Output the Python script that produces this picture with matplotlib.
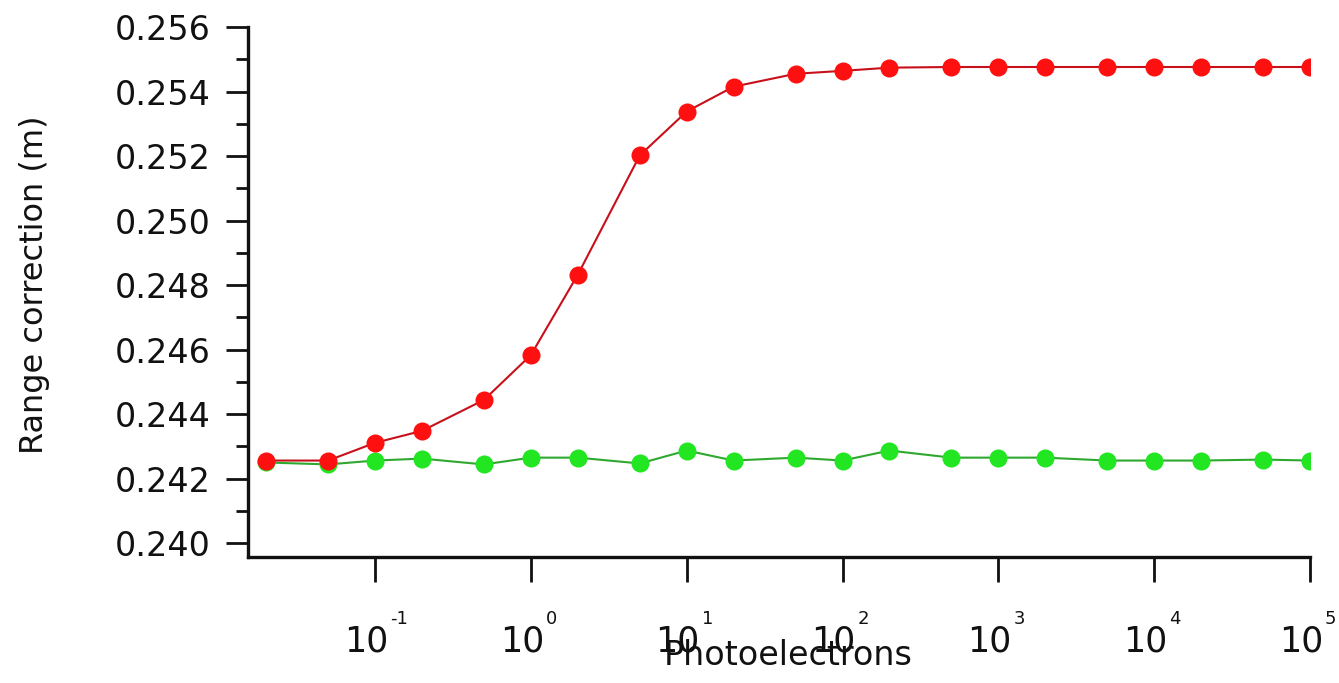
import numpy as np
import matplotlib
matplotlib.use("Agg")
import matplotlib.pyplot as plt
from matplotlib.ticker import MultipleLocator, NullLocator

plt.rcParams["font.family"] = ["DejaVu Sans"]

photoelectrons = [0.02, 0.05, 0.1, 0.2, 0.5, 1, 2, 5, 10, 20, 50, 100, 200,
                  500, 1000, 2000, 5000, 1e4, 2e4, 5e4, 1e5]

red_corr = [0.24256, 0.24256, 0.24311, 0.24348, 0.24444, 0.24583, 0.24832,
            0.25202, 0.25338, 0.25415, 0.25455, 0.25464, 0.25474, 0.25476,
            0.25476, 0.25476, 0.25476, 0.25476, 0.25476, 0.25476, 0.25476]

green_corr = [0.24250, 0.24244, 0.24256, 0.24262, 0.24244, 0.24265, 0.24265,
              0.24247, 0.24287, 0.24256, 0.24265, 0.24256, 0.24287, 0.24265,
              0.24265, 0.24265, 0.24256, 0.24256, 0.24256, 0.24259, 0.24256]

xtick_vals = [1e-1, 1e0, 1e1, 1e2, 1e3, 1e4, 1e5]
xtick_exps = ["-1", "0", "1", "2", "3", "4", "5"]

fig = plt.figure(figsize=(13.39, 6.83), dpi=100)
ax = fig.add_axes([248 / 1339, 1 - 557 / 683, (1310 - 248) / 1339, (557 - 27) / 683])

ax.plot(photoelectrons, green_corr, "-", color="#2fa82f", lw=1.5, zorder=2)
ax.plot(photoelectrons, green_corr, "o", color="#22e622", ms=13, mew=0, zorder=3)
ax.plot(photoelectrons, red_corr, "-", color="#c8101a", lw=1.5, zorder=4)
ax.plot(photoelectrons, red_corr, "o", color="#ff1010", ms=13, mew=0, zorder=5)

ax.set_xscale("log")
ax.set_xlim(0.0153, 1e5)
ax.set_ylim(0.23957, 0.256)

ax.set_xticks(xtick_vals)
ax.set_xticklabels([])
ax.xaxis.set_minor_locator(NullLocator())
ax.yaxis.set_major_locator(MultipleLocator(0.002))
ax.yaxis.set_minor_locator(MultipleLocator(0.001))
ax.yaxis.set_major_formatter(plt.FuncFormatter(lambda v, p: "%.3f" % v))

# tick labels like "10" with a small raised exponent
for v, e in zip(xtick_vals, xtick_exps):
    ax.annotate("10", xy=(v, 0), xycoords=ax.get_xaxis_transform(),
                xytext=(-9, -84), textcoords="offset pixels",
                ha="center", va="center", fontsize=25, color="#111111")
    ax.annotate(e, xy=(v, 0), xycoords=ax.get_xaxis_transform(),
                xytext=(15, -62), textcoords="offset pixels",
                ha="left", va="center", fontsize=13, color="#111111")

for s in ["top", "right"]:
    ax.spines[s].set_visible(False)
for s in ["left", "bottom"]:
    ax.spines[s].set_linewidth(2.4)
    ax.spines[s].set_color("#111111")

ax.tick_params(axis="y", which="major", length=16, width=2, labelsize=24,
               pad=11, colors="#111111")
ax.tick_params(axis="y", which="minor", length=9, width=2, colors="#111111")
ax.tick_params(axis="x", which="major", length=18, width=2, colors="#111111")

fig.text(35 / 1339, 1 - 285 / 683, "Range correction (m)", rotation=90,
         ha="center", va="center", fontsize=23, color="#111111")
fig.text(788 / 1339, 1 - 665 / 683, "Photoelectrons", ha="center",
         va="baseline", fontsize=24, color="#111111")

fig.savefig("out.png", dpi=100, facecolor="white")
